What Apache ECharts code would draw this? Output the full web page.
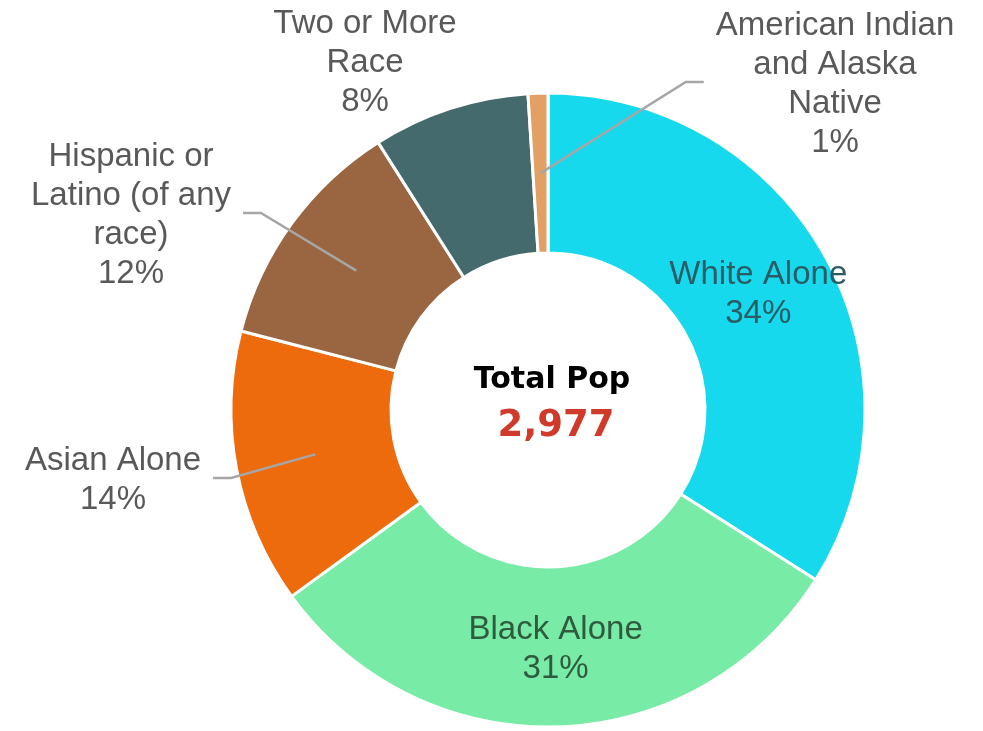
<!DOCTYPE html>
<html>
<head>
<meta charset="utf-8">
<script src="https://cdn.jsdelivr.net/npm/echarts@6/dist/echarts.min.js"></script>
<style>
  html, body { margin: 0; padding: 0; background: #ffffff; }
  #chart { width: 983px; height: 731px; }
</style>
</head>
<body>
<div id="chart"></div>
<script>
// ---- data ----
var categories = [
  'White Alone',
  'Black Alone',
  'Asian Alone',
  'Hispanic or\nLatino (of any\nrace)',
  'Two or More\nRace',
  'American Indian\nand Alaska\nNative'
];
var populations = [1012, 923, 417, 357, 238, 30];
var colors = ['#17D9ED', '#78EBA6', '#ED6B0C', '#9A6642', '#456A6D', '#E3A065'];
var insideLabelColors = ['#2B5C66', '#2F5A3E'];
var centerTitle = 'Total Pop';

// ---- layout constants ----
var CX = 548, CY = 410, R_IN = 157, R_OUT = 317, R_LINE = 237;
// label block centres for outside labels (by data index)
var outsideLabelPos = {
  2: [113, 480],
  3: [131, 215],
  4: [365, 63],
  5: [835, 84]
};
var insideCount = 2;

var total = populations.reduce(function (a, b) { return a + b; }, 0);

function pctFormatter(p) {
  return p.name + '\n' + Math.round(p.percent) + '%';
}

var ringData = categories.map(function (c, i) {
  var d = { name: c, value: populations[i], itemStyle: { color: colors[i] } };
  if (i < insideCount) {
    d.label = { show: true, color: insideLabelColors[i] };
  } else {
    d.label = { show: false };
  }
  return d;
});

var guideData = categories.map(function (c, i) {
  var d = { name: c, value: populations[i] };
  if (i < insideCount) {
    d.label = { show: false };
    d.labelLine = { show: false };
  } else if (i === 4) {
    d.labelLine = { show: false };
  }
  return d;
});

var chart = echarts.init(document.getElementById('chart'), null, { renderer: 'canvas' });

var option = {
  backgroundColor: '#ffffff',
  animation: false,
  title: [
    {
      text: centerTitle,
      left: CX - 1,
      top: 360,
      textAlign: 'center',
      textStyle: { fontFamily: 'DejaVu Sans', fontWeight: 'bold', fontSize: 30, color: '#000000' }
    },
    {
      text: total.toLocaleString('en-US'),
      left: CX + 3,
      top: 403,
      textAlign: 'center',
      textStyle: { fontFamily: 'DejaVu Sans', fontWeight: 'bold', fontSize: 37, color: '#CF3A2B' }
    }
  ],
  series: [
    {
      type: 'pie',
      center: [CX, CY],
      radius: [R_IN, R_OUT],
      startAngle: 90,
      clockwise: true,
      avoidLabelOverlap: false,
      silent: true,
      itemStyle: { borderColor: '#ffffff', borderWidth: 3 },
      label: {
        position: 'inside',
        formatter: pctFormatter,
        fontFamily: 'Liberation Sans',
        fontSize: 33,
        lineHeight: 39,
        align: 'center'
      },
      labelLine: { show: false },
      data: ringData,
      z: 2
    },
    {
      type: 'pie',
      center: [CX, CY],
      radius: [0, R_LINE],
      startAngle: 90,
      clockwise: true,
      avoidLabelOverlap: false,
      silent: true,
      itemStyle: { color: 'rgba(0,0,0,0)', borderWidth: 0 },
      label: {
        show: true,
        position: 'outside',
        formatter: pctFormatter,
        fontFamily: 'Liberation Sans',
        fontSize: 33,
        lineHeight: 39,
        color: '#595959',
        align: 'center'
      },
      labelLine: {
        show: true,
        length: 20,
        length2: 20,
        lineStyle: { color: '#A6A6A6', width: 2.5 }
      },
      labelLayout: function (params) {
        var pos = outsideLabelPos[params.dataIndex];
        if (!pos) { return {}; }
        var w = params.labelRect.width;
        var res = { x: pos[0], y: pos[1], align: 'center', verticalAlign: 'middle' };
        var pts = params.labelLinePoints;
        if (pts && pts.length) {
          var start = pts[0];
          var rightSide = pos[0] > CX;
          var gap = 12, horiz = 18;
          var ey = pos[1] - 2;
          var ex = rightSide ? pos[0] - w / 2 - gap : pos[0] + w / 2 + gap;
          var bx = rightSide ? ex - horiz : ex + horiz;
          res.labelLinePoints = [start, [bx, ey], [ex, ey]];
        }
        return res;
      },
      data: guideData,
      z: 3
    }
  ]
};

chart.setOption(option);
</script>
</body>
</html>
